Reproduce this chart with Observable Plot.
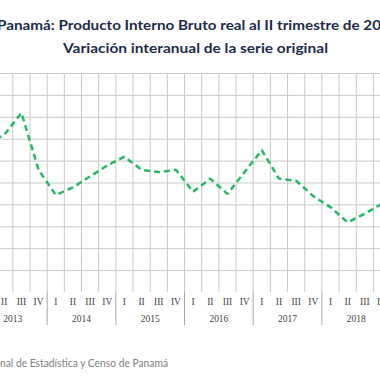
<!DOCTYPE html>
<html><head><meta charset="utf-8">
<script src="https://cdn.jsdelivr.net/npm/d3@7"></script>
<script src="https://cdn.jsdelivr.net/npm/@observablehq/plot@0.6"></script>
<style>
html,body{margin:0;padding:0;background:#fff;}
#wrap{position:relative;width:380px;height:380px;overflow:hidden;background:#fff;}
#chart{position:absolute;left:-61.6px;top:63px;}
#chart svg{max-width:none !important;display:block;}
#txt{position:absolute;left:0;top:0;overflow:visible;}
</style></head><body>
<div id="wrap"><div id="chart"></div><svg id="txt" width="380" height="380"></svg></div>
<script>
// ---- data ----
const titleText = "Panamá: Producto Interno Bruto real al II trimestre de 2019";
const subtitleText = "Variación interanual de la serie original";
const sourceText = "Fuente: Instituto Nacional de Estadística y Censo de Panamá";
const years = ["2013","2014","2015","2016","2017","2018","2019"];
const quarters = ["I","II","III","IV"];
// year-on-year % change, 2013 I ... 2019 II
const values = [6.8, 7.2, 8.2, 5.6,
                4.45, 4.8, 5.3, 5.8,
                6.2, 5.6, 5.5, 5.6,
                4.6, 5.2, 4.5, 5.5,
                6.5, 5.2, 5.1, 4.4,
                3.9, 3.2, 3.6, 4.05,
                3.1, 2.9];
const yTicks = [1,2,3,4,5,6,7,8,9,10];

// ---- build ----
const data = values.map((v,i)=>({i, q: quarters[i%4], year: years[Math.floor(i/4)], v}));
const n = values.length;
const qw = 17.17;
const mL = 40, mR = 20, mT = 10, mB = 45, ph = 219;
const W = mL + n*qw + mR;
const yearBounds = years.map((y,i)=>i*4);
const gridXs = d3.range(0, n+1);

const plot = Plot.plot({
  width: W, height: mT + ph + mB,
  marginLeft: mL, marginRight: mR, marginTop: mT, marginBottom: mB,
  x: {domain: [0, n], axis: null},
  y: {domain: [0, 10], axis: null},
  style: {background: "transparent", overflow: "visible", maxWidth: "none"},
  marks: [
    Plot.gridX(gridXs, {stroke: "#c8c8c8", strokeOpacity: 1}),
    Plot.gridY(yTicks, {stroke: "#c8c8c8", strokeOpacity: 1}),
    Plot.ruleX(yearBounds, {x: d=>d, y1: 0, y2: 0, insetBottom: -33, stroke: "#a6a6a6"}),
    Plot.line(data, {x: d=>d.i+0.5, y: "v", stroke: "#22b864", strokeWidth: 2.5,
      strokeDasharray: "6,4", strokeLinecap: "butt", strokeLinejoin: "miter"}),
    Plot.text(data, {x: d=>d.i+0.5, text: "q", frameAnchor: "bottom", dy: 12.5,
      fontFamily: "Liberation Serif", fontSize: 9.5, fill: "#404040"}),
    Plot.text(years, {x: (d,i)=>i*4+2, text: d=>d, frameAnchor: "bottom", dy: 30,
      fontFamily: "Liberation Serif", fontSize: 9.5, fill: "#404040"})
  ]
});
const chartDiv = document.getElementById("chart");
chartDiv.style.width = W + "px";
chartDiv.appendChild(plot);

// ---- titles ----
const T = d3.select("#txt");
function measure(str, font, size, weight){
  const t = T.append("text").attr("font-family", font).attr("font-size", size)
    .attr("font-weight", weight).text(str);
  const w = t.node().getComputedTextLength(); t.remove(); return w;
}
const tf = "Lato", ts = 14;
{
  const w = measure(titleText, tf, ts, 700);
  const w1 = measure("Panamá: Producto Interno Bruto real al II trimestre de 20", tf, ts, 700);
  const s = 384 / w1;
  T.append("text").attr("x", -3).attr("y", 30).attr("font-family", tf).attr("font-size", ts)
    .attr("font-weight", 700).attr("fill", "#1c2b4a")
    .attr("textLength", w*s).attr("lengthAdjust", "spacingAndGlyphs").text(titleText);
}
T.append("text").attr("x", 63).attr("y", 52.7).attr("font-family", tf).attr("font-size", ts)
  .attr("font-weight", 700).attr("fill", "#1c2b4a")
  .attr("textLength", 265).attr("lengthAdjust", "spacingAndGlyphs").text(subtitleText);
{
  const sf = "Lato", ss = 10.5;
  const w = measure(sourceText, sf, ss, 400);
  const w1 = measure("nal de Estadística y Censo de Panamá", sf, ss, 400);
  const s = 168 / w1;
  T.append("text").attr("x", 168 - w*s).attr("y", 367.3).attr("font-family", sf).attr("font-size", ss)
    .attr("fill", "#7f7f7f")
    .attr("textLength", w*s).attr("lengthAdjust", "spacingAndGlyphs").text(sourceText);
}
</script>
</body></html>
